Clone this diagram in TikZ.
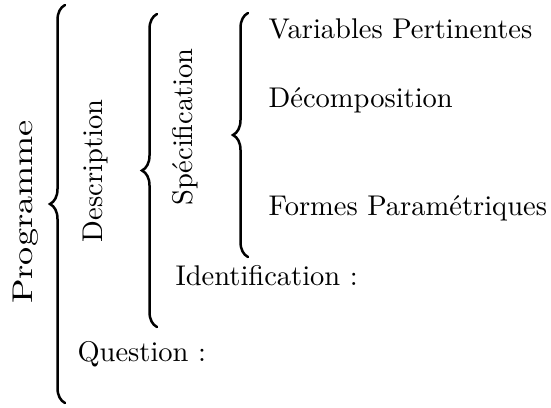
\documentclass[tikz,border=0pt]{standalone}
\usepackage{graphicx}
\usetikzlibrary{decorations.pathreplacing}
\begin{document}
\begin{tikzpicture}[x=1pt,y=-1pt,
  lbl/.style={inner sep=0pt,font=\fontsize{10}{12}\selectfont,scale=2.85},
  hlbl/.style={lbl,anchor=base west},
  vlbl/.style={lbl,anchor=base,rotate=90},
  bracestyle/.style={decorate,decoration={brace,amplitude=15pt,aspect=0.5},line width=2.5pt,line cap=round}]
\useasboundingbox (0,0) rectangle (551,407);
% rotated labels
\node[vlbl] (prog) at (32,212) {\scalebox{1.27}[1]{Programme}};
\node[vlbl] (desc) at (102,171) {Description};
\node[vlbl] (spec) at (192,127) {Spécification};
% horizontal labels
\node[hlbl] (vp) at (268,38) {Variables Pertinentes};
\node[hlbl] (dec) at (268,107) {Décomposition};
\node[hlbl] (fp) at (268,215) {Formes Paramétriques};
\node[hlbl] (ident) at (175,285) {Identification :};
\node[hlbl] (quest) at (77,361) {Question :};
% braces
\coordinate (pb) at (65,403); \coordinate (pt) at (65,5);
\coordinate (db) at (157,327); \coordinate (dt) at (157,14);
\coordinate (sb) at (248,257); \coordinate (st) at (248,13);
\draw[bracestyle] (pb) -- (pt);
\draw[bracestyle] (db) -- (dt);
\draw[bracestyle] (sb) -- (st);
\end{tikzpicture}
\end{document}
